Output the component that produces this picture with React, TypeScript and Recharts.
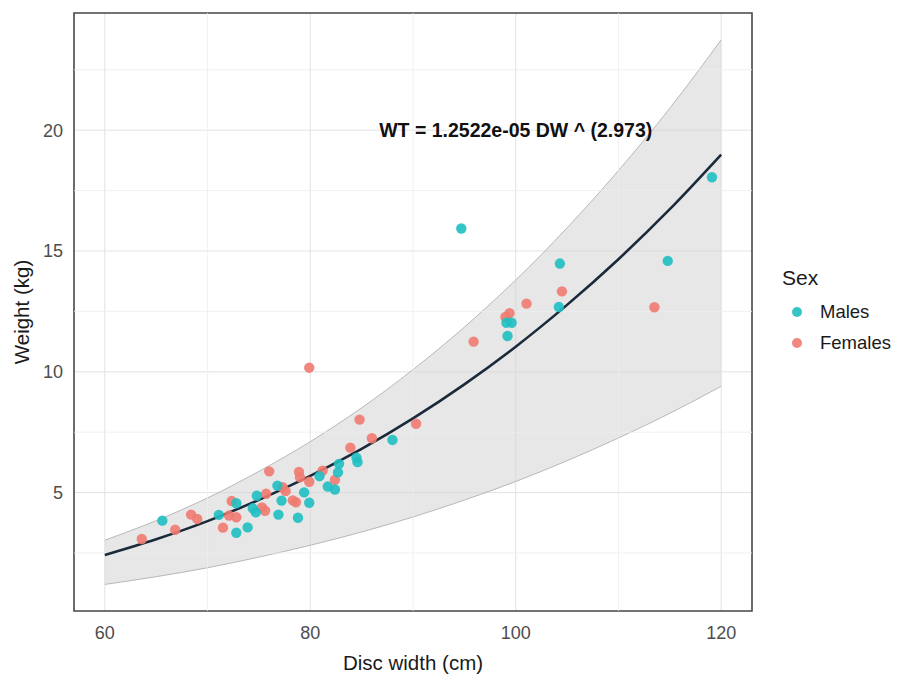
import React from 'react';
import {
  ComposedChart, Area, Line, Scatter, XAxis, YAxis, CartesianGrid,
  ReferenceLine, ReferenceArea, ReferenceDot,
} from 'recharts';

// Fitted curve and band
const curveDW = [60, 65, 70, 75, 80, 85, 90, 95, 100, 105, 110, 115, 120];
const fitWT = [2.42, 3.07, 3.82, 4.70, 5.69, 6.81, 8.07, 9.48, 11.04, 12.77, 14.66, 16.73, 18.99];
const upperWT = [3.03, 3.84, 4.78, 5.88, 7.11, 8.51, 10.09, 11.85, 13.80, 15.96, 18.33, 20.91, 23.74];
const lowerWT = [1.20, 1.52, 1.89, 2.33, 2.82, 3.37, 3.99, 4.69, 5.46, 6.32, 7.26, 8.28, 9.40];

// Observations
const malesDW = [65.6, 71.1, 72.8, 72.8, 73.9, 74.4, 74.7, 74.8, 76.8, 76.9, 77.2, 78.8, 79.4, 79.9, 80.9, 81.7, 82.4, 82.7, 82.8, 84.5, 84.6, 88.0, 94.7, 99.1, 99.6, 99.2, 104.2, 104.3, 114.8, 119.1];
const malesWT = [3.84, 4.08, 4.56, 3.34, 3.56, 4.35, 4.18, 4.87, 5.29, 4.09, 4.67, 3.96, 5.01, 4.58, 5.68, 5.25, 5.13, 5.84, 6.19, 6.44, 6.26, 7.18, 15.93, 12.03, 12.03, 11.48, 12.68, 14.48, 14.59, 18.05];
const femalesDW = [63.6, 66.85, 68.4, 69.0, 71.5, 72.35, 72.1, 72.8, 75.3, 75.7, 75.6, 76.0, 77.3, 77.6, 78.6, 78.3, 78.9, 79.0, 79.9, 79.9, 81.2, 82.4, 83.9, 84.8, 86.0, 90.3, 95.9, 99.0, 99.4, 101.05, 104.5, 113.5];
const femalesWT = [3.08, 3.46, 4.09, 3.91, 3.55, 4.65, 4.05, 3.98, 4.39, 4.95, 4.25, 5.88, 5.22, 5.06, 4.60, 4.68, 5.86, 5.63, 5.45, 10.17, 5.91, 5.53, 6.86, 8.02, 7.25, 7.85, 11.25, 12.27, 12.43, 12.82, 13.33, 12.67];

const xMajor = [60, 80, 100, 120];
const xMinor = [70, 90, 110];
const yMajor = [5, 10, 15, 20];
const yMinor = [2.5, 7.5, 12.5, 17.5, 22.5];
const xDomain: [number, number] = [57, 123];
const yDomain: [number, number] = [0.1, 24.85];

const equation = 'WT = 1.2522e-05 DW ^ (2.973)';
const seriesNames = ['Males', 'Females'];
const legendTitle = 'Sex';

const MALE = '#1fbfc2';
const FEMALE = '#f07a70';
const FONT = '"Liberation Sans", Arial, sans-serif';

const curveData = curveDW.map((x, i) => ({ x, fit: fitWT[i], band: [lowerWT[i], upperWT[i]] }));
const males = malesDW.map((x, i) => ({ x, y: malesWT[i] }));
const females = femalesDW.map((x, i) => ({ x, y: femalesWT[i] }));

const dot = (color: string) => (props: any) => (
  <circle cx={props.cx} cy={props.cy} r={5.2} fill={color} fillOpacity={0.9} />
);

export default function App() {
  return (
    <div style={{ position: 'relative', width: 888, height: 667, fontFamily: FONT }}>
      <ComposedChart
        width={888}
        height={667}
        data={curveData}
        margin={{ top: 5, right: 144, bottom: 7, left: 0 }}
      >
        <CartesianGrid stroke="#e2e2e2" strokeWidth={1} />
        {xMinor.map((v) => (
          <ReferenceLine key={'xm' + v} x={v} stroke="#eeeeee" strokeWidth={0.8} />
        ))}
        {yMinor.map((v) => (
          <ReferenceLine key={'ym' + v} y={v} stroke="#eeeeee" strokeWidth={0.8} />
        ))}
        <XAxis
          dataKey="x"
          type="number"
          domain={xDomain}
          ticks={xMajor}
          allowDataOverflow
          axisLine={false}
          tickLine={false}
          tickSize={6}
          tickMargin={9}
          height={57}
          tick={{ fill: '#4d4d4d', fontSize: 18, fontFamily: FONT }}
          label={{
            content: (p: any) => {
              const vb = p.viewBox;
              return (
                <text x={vb.x + vb.width / 2} y={vb.y + 51} textAnchor="middle" dominantBaseline="central"
                  fill="#1a1a1a" fontSize={20.5} fontFamily={FONT}>Disc width (cm)</text>
              );
            },
          }}
        />
        <YAxis
          type="number"
          domain={yDomain}
          ticks={yMajor}
          allowDataOverflow
          axisLine={false}
          tickLine={false}
          tickSize={6}
          tickMargin={5}
          width={66}
          tick={{ fill: '#4d4d4d', fontSize: 18, fontFamily: FONT }}
          label={{
            content: (p: any) => {
              const vb = p.viewBox;
              const cx = vb.x + 13;
              const cy = vb.y + vb.height / 2;
              return (
                <text x={cx} y={cy} textAnchor="middle" dominantBaseline="central"
                  transform={`rotate(-90 ${cx} ${cy})`} fill="#1a1a1a" fontSize={20.5} fontFamily={FONT}>Weight (kg)</text>
              );
            },
          }}
        />
        <Area
          dataKey="band"
          type="monotone"
          fill="#d4d4d4"
          fillOpacity={0.55}
          stroke="#b8b8b8"
          strokeWidth={1}
          isAnimationActive={false}
          activeDot={false}
          dot={false}
        />
        <Scatter data={females} dataKey="y" shape={dot(FEMALE)} isAnimationActive={false} />
        <Scatter data={males} dataKey="y" shape={dot(MALE)} isAnimationActive={false} />
        <Line
          dataKey="fit"
          type="monotone"
          stroke="#1b2a3a"
          strokeWidth={2.6}
          dot={false}
          activeDot={false}
          isAnimationActive={false}
        />
        <ReferenceDot
          x={100}
          y={20}
          r={0}
          fill="none"
          stroke="none"
          label={{
            value: equation,
            position: 'center',
            fill: '#111',
            fontSize: 19.5,
            fontWeight: 'bold',
            fontFamily: FONT,
          }}
        />
        <ReferenceArea
          x1={xDomain[0]}
          x2={xDomain[1]}
          y1={yDomain[0]}
          y2={yDomain[1]}
          fill="none"
          stroke="#4a4a4a"
          strokeWidth={1.6}
          ifOverflow="visible"
        />
      </ComposedChart>
      <div style={{ position: 'absolute', left: 774, top: 258, fontFamily: FONT, color: '#1a1a1a' }}>
        <div style={{ fontSize: 21, lineHeight: '24px' }}>{legendTitle}</div>
        {seriesNames.map((name, i) => (
          <div key={name} style={{ display: 'flex', alignItems: 'center', height: 31, marginTop: i === 0 ? 6 : 0 }}>
            <span style={{
              display: 'inline-block', width: 10, height: 10, borderRadius: 5, marginLeft: 10,
              background: i === 0 ? MALE : FEMALE, opacity: 0.9,
            }} />
            <span style={{ fontSize: 18.5, marginLeft: 18 }}>{name}</span>
          </div>
        ))}
      </div>
    </div>
  );
}
